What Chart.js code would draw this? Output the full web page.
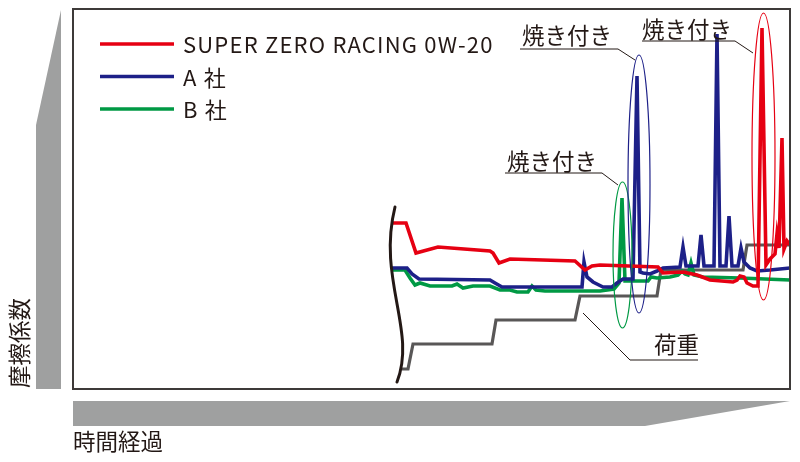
<!DOCTYPE html>
<html lang="ja">
<head>
<meta charset="utf-8">
<title>摩擦係数と荷重の時間経過</title>
<script src="https://cdn.jsdelivr.net/npm/chart.js@4/dist/chart.umd.min.js"></script>
<style>
  html, body { margin: 0; padding: 0; background: #ffffff; }
  #wrap { width: 800px; height: 462px; }
</style>
</head>
<body>
<div id="wrap"><canvas id="chart" width="800" height="462"></canvas></div>
<script>
// Series names
const seriesNames = ['SUPER ZERO RACING 0W-20', 'A 社', 'B 社', '荷重'];

// SUPER ZERO RACING 0W-20 : elapsed time / friction coefficient (relative units)
const superZeroT  = [319, 333, 343, 365, 417, 420, 426, 437, 502, 512, 519, 527, 585, 590, 610, 624, 637, 660, 664, 667, 671, 674, 680, 685, 689, 693, 697, 702, 704, 706, 709, 711, 714, 717];
const superZeroMu = [166, 166, 136, 142, 138, 136, 126, 130, 128, 119, 123, 124, 122, 116, 117, 114, 109, 107, 109, 113, 112, 106, 103, 103, 361, 124, 130, 135, 155, 141, 251, 140, 148, 144];

// A 社
const brandAT  = [319, 334, 339, 346, 417, 422, 429, 509, 511, 514, 520, 530, 539, 544, 550, 560, 564, 567, 570, 577, 584, 590, 607, 610, 613, 625, 628, 631, 641, 644, 647, 653, 656, 659, 665, 668, 671, 677, 684, 697, 717];
const brandAMu = [121, 121, 115, 110, 109, 106, 102, 102, 127, 112, 107, 102, 102, 106, 110, 110, 313, 117, 116, 115, 118, 121, 122, 142, 123, 123, 154, 123, 123, 355, 123, 123, 173, 123, 123, 141, 127, 121, 118, 119, 121];

// B 社
const brandBT  = [319, 332, 337, 342, 347, 357, 379, 384, 390, 400, 417, 427, 437, 444, 455, 459, 463, 472, 527, 541, 546, 549, 552, 575, 578, 584, 597, 605, 609, 612, 615, 618, 621, 630, 667, 717];
const brandBMu = [119, 119, 111, 104, 106, 103, 103, 105, 101, 103, 103,  99,  99,  97,  97, 103,  99,  98,  98, 100, 106, 191, 108, 108, 112, 111, 112, 114, 118, 115, 114, 126, 114, 112, 111, 109];

// 荷重 (load, stepped)
const loadT = [329, 335, 340, 419, 423, 502, 507, 584, 588, 670, 674, 717];
const loadV = [ 20,  20,  45,  45,  69,  69,  93,  93, 119, 119, 144, 144];

// Axis range (relative units)
const timeMax = 717;
const muMax = 380;

const INK = '#231815';
const FONT = '"Noto Sans CJK JP", "Noto Sans", sans-serif';
const colors = ['#e60012', '#1d2088', '#009944', '#595757'];

function toPoints(ts, vs) { return ts.map((t, i) => ({ x: t, y: vs[i] })); }

// Callouts (data units): ellipse around each seizure spike, text labels with leader lines
const seizureRings = [
  { cx: 549.5, cy: 134,   rx: 9.5,  ry: 73,    color: colors[2] },
  { cx: 566,   cy: 205,   rx: 11,   ry: 129,   color: colors[1] },
  { cx: 690.5, cy: 232.5, rx: 11.5, ry: 143.5, color: colors[0] }
];
const callouts = [
  { text: '焼き付き', tx: 434, ty: 228, path: [[432, 216], [529, 216], [545, 204]] },
  { text: '焼き付き', tx: 449, ty: 354, path: [[447, 340], [545, 340], [562, 329]] },
  { text: '焼き付き', tx: 569, ty: 360, path: [[569, 348], [662, 348], [680, 336]] },
  { text: '荷重',     tx: 581, ty: 45,  path: [[510, 76], [557, 29], [625, 29]] }
];

const decorPlugin = {
  id: 'decor',
  beforeDraw(chart) {
    const ctx = chart.ctx;
    ctx.save();
    // axis wedges
    ctx.fillStyle = '#9fa0a0';
    ctx.beginPath();
    ctx.moveTo(36, 389); ctx.lineTo(61, 389); ctx.lineTo(61, 10); ctx.lineTo(36, 125);
    ctx.closePath(); ctx.fill();
    ctx.beginPath();
    ctx.moveTo(73, 401); ctx.lineTo(790, 401); ctx.lineTo(645, 426); ctx.lineTo(73, 426);
    ctx.closePath(); ctx.fill();
    // axis titles
    ctx.fillStyle = INK;
    ctx.font = '22.5px ' + FONT;
    ctx.textBaseline = 'middle';
    ctx.textAlign = 'left';
    ctx.fillText('時間経過', 73, 441);
    ctx.translate(19, 388);
    ctx.rotate(-Math.PI / 2);
    ctx.fillText('摩擦係数', 0, 0);
    ctx.restore();
  },
  afterDatasetsDraw(chart) {
    const ctx = chart.ctx;
    const xs = chart.scales.x, ys = chart.scales.y;
    const X = v => xs.getPixelForValue(v);
    const Y = v => ys.getPixelForValue(v);
    ctx.save();

    // axis-break mark before the traces
    ctx.strokeStyle = INK;
    ctx.lineWidth = 3;
    ctx.lineCap = 'round';
    ctx.beginPath();
    ctx.moveTo(X(322), Y(182));
    ctx.bezierCurveTo(X(304), Y(110), X(344), Y(58), X(324), Y(7));
    ctx.stroke();

    // rings
    ctx.lineWidth = 1.2;
    seizureRings.forEach(r => {
      ctx.strokeStyle = r.color;
      ctx.beginPath();
      ctx.ellipse(X(r.cx), Y(r.cy), Math.abs(X(r.cx + r.rx) - X(r.cx)), Math.abs(Y(r.cy + r.ry) - Y(r.cy)), 0, 0, Math.PI * 2);
      ctx.stroke();
    });

    // callout labels and leaders
    ctx.strokeStyle = INK;
    ctx.lineWidth = 1;
    ctx.lineCap = 'butt';
    ctx.fillStyle = INK;
    ctx.font = '22.5px ' + FONT;
    ctx.textBaseline = 'middle';
    ctx.textAlign = 'left';
    callouts.forEach(c => {
      ctx.beginPath();
      c.path.forEach((p, i) => {
        if (i === 0) ctx.moveTo(X(p[0]), Y(p[1]));
        else ctx.lineTo(X(p[0]), Y(p[1]));
      });
      ctx.stroke();
      ctx.fillText(c.text, X(c.tx), Y(c.ty));
    });

    // legend
    ctx.font = '22px ' + FONT;
    if ('letterSpacing' in ctx) ctx.letterSpacing = '1.2px';
    chart.data.datasets.slice(0, 3).forEach((ds, i) => {
      const y = 44 + i * 32.5;
      ctx.strokeStyle = ds.borderColor;
      ctx.lineWidth = 3.5;
      ctx.beginPath();
      ctx.moveTo(100, y); ctx.lineTo(174, y);
      ctx.stroke();
      ctx.fillStyle = INK;
      ctx.fillText(ds.label, 183, y + 1);
    });
    if ('letterSpacing' in ctx) ctx.letterSpacing = '0px';

    // plot frame
    const a = chart.chartArea;
    ctx.strokeStyle = '#3e3a39';
    ctx.lineWidth = 2;
    ctx.strokeRect(a.left, a.top, a.right - a.left, a.bottom - a.top);
    ctx.restore();
  }
};

const datasets = [
  [superZeroT, superZeroMu],
  [brandAT, brandAMu],
  [brandBT, brandBMu],
  [loadT, loadV]
].map((s, i) => ({
  label: seriesNames[i],
  data: toPoints(s[0], s[1]),
  borderColor: colors[i],
  borderWidth: i === 3 ? 3.2 : 3.6,
  pointRadius: 0,
  tension: 0,
  fill: false
}));

new Chart(document.getElementById('chart'), {
  type: 'line',
  data: { datasets },
  options: {
    responsive: false,
    animation: false,
    devicePixelRatio: 1,
    layout: { padding: { left: 73, top: 9, right: 10, bottom: 73 } },
    plugins: { legend: { display: false }, tooltip: { enabled: false } },
    scales: {
      x: { type: 'linear', min: 0, max: timeMax, display: false },
      y: { type: 'linear', min: 0, max: muMax, display: false }
    }
  },
  plugins: [decorPlugin]
});
</script>
</body>
</html>
